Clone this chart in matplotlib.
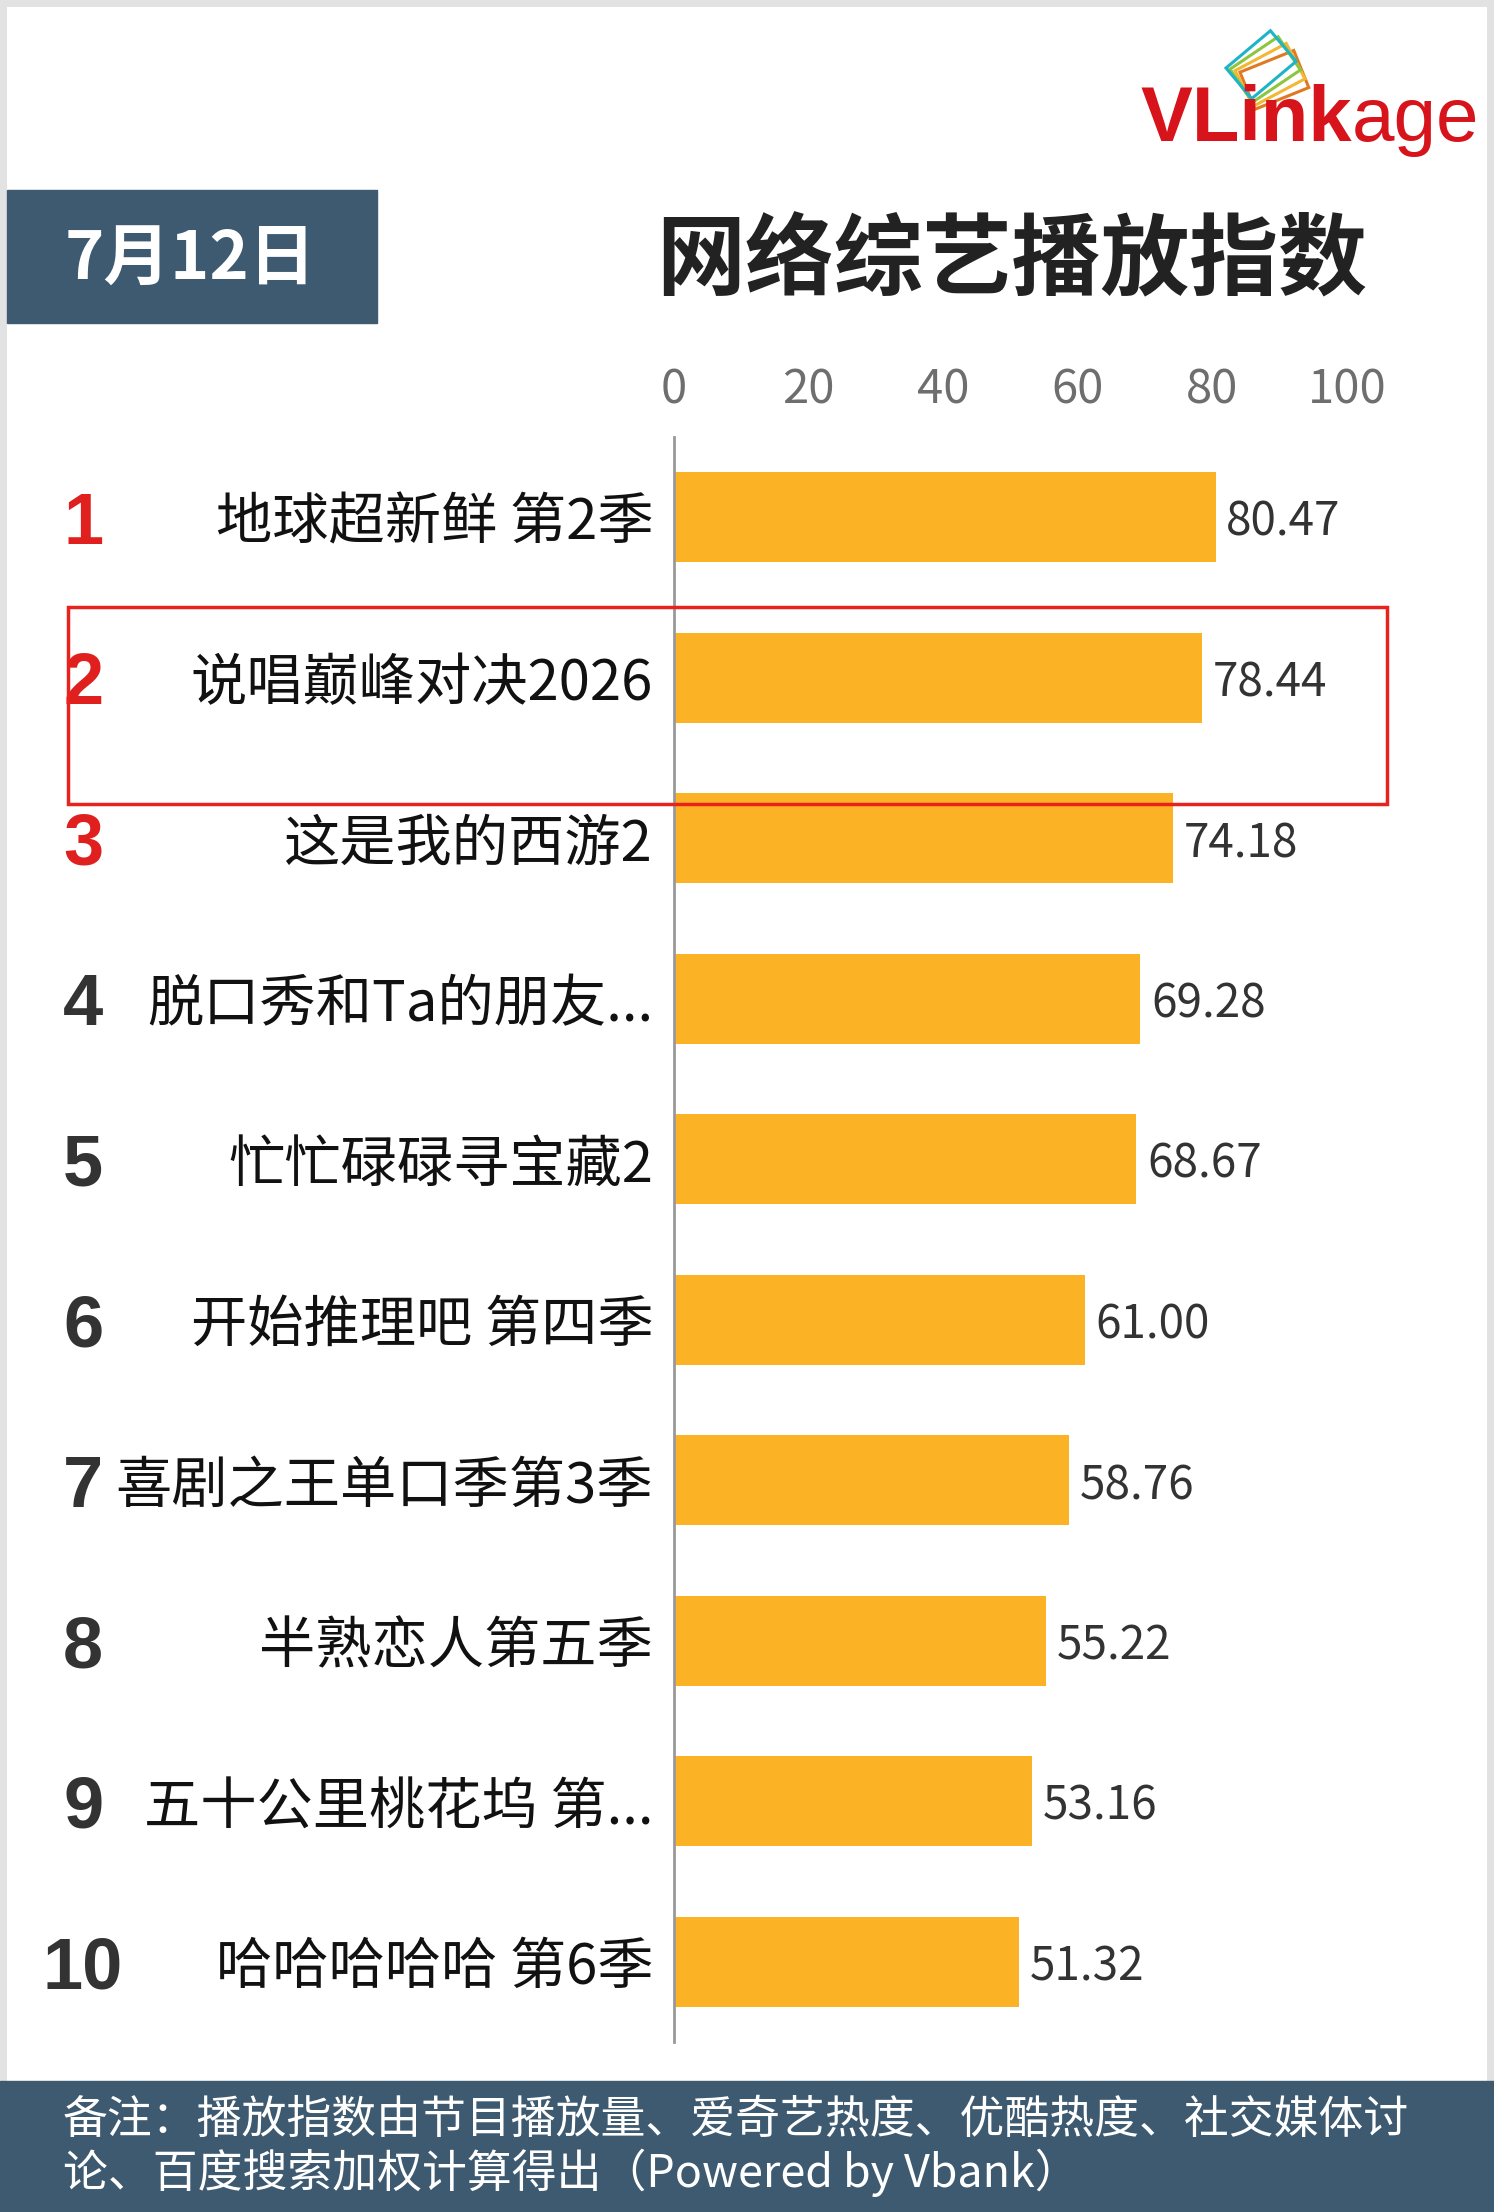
import matplotlib.pyplot as plt
from matplotlib.patches import Rectangle

plt.rcParams['font.family'] = ['Noto Sans CJK SC', 'DejaVu Sans']

# 数据
ranks = [1, 2, 3, 4, 5, 6, 7, 8, 9, 10]
shows = ["地球超新鲜 第2季", "说唱巅峰对决2026", "这是我的西游2", "脱口秀和Ta的朋友...",
         "忙忙碌碌寻宝藏2", "开始推理吧 第四季", "喜剧之王单口季第3季", "半熟恋人第五季",
         "五十公里桃花坞 第...", "哈哈哈哈哈 第6季"]
values = [80.47, 78.44, 74.18, 69.28, 68.67, 61.00, 58.76, 55.22, 53.16, 51.32]
xticks = [0, 20, 40, 60, 80, 100]

bar_color = "#FBB224"
dark_blue = "#3E5A70"
red = "#E0201E"

fig = plt.figure(figsize=(14.94, 22.12), dpi=100)

# 主图
ax = fig.add_axes([674 / 1494, 1 - 2042 / 2212, 673 / 1494, 1605 / 2212])
y = list(range(len(shows)))
ax.barh(y, values, height=0.56, color=bar_color, zorder=2)
ax.set_xlim(0, 100)
ax.set_ylim(9.5, -0.5)
ax.xaxis.tick_top()
ax.set_xticks(xticks)
ax.set_xticklabels([str(t) for t in xticks], fontsize=34, color="#6E6E6E")
ax.tick_params(axis='x', length=0, pad=16)
ax.set_yticks(y)
ax.set_yticklabels(shows, fontsize=40.5, color="#111111")
ax.tick_params(axis='y', length=0, pad=15)
for s in ["top", "right", "bottom"]:
    ax.spines[s].set_visible(False)
ax.spines["left"].set_color("#999999")
ax.spines["left"].set_linewidth(2)

for i, v in enumerate(values):
    ax.text(v + 1.6, i, f"{v:.2f}", va="center_baseline", ha="left", fontsize=33, color="#333333")

for i, r in enumerate(ranks):
    c = red if r <= 3 else "#333333"
    ax.text(-0.878, i, str(r), transform=ax.get_yaxis_transform(), ha="center",
            va="center_baseline", fontsize=52, fontweight="bold", color=c,
            family=["Liberation Sans", "DejaVu Sans"])

# 装饰层（像素坐标）
ov = fig.add_axes([0, 0, 1, 1], zorder=5)
ov.set_xlim(0, 1494)
ov.set_ylim(2212, 0)
ov.axis("off")
ov.patch.set_alpha(0)

# 外框
ov.add_patch(Rectangle((0, 0), 1494, 2212, fill=False, edgecolor="#E2E2E2", linewidth=10))

# 日期框
ov.add_patch(Rectangle((7, 190), 370, 133, color=dark_blue))
ov.text(190, 260, "7月12日", color="white", fontsize=48, fontweight="bold", ha="center", va="center")

# 标题
ov.text(1012, 262, "网络综艺播放指数", color="#222222", fontsize=64, fontweight="bold",
        ha="center", va="center")

# logo
for ang, col, dx in [(-22, "#E07A22", 14), (-28, "#F2B733", 9), (-34, "#8CC63F", 4), (-40, "#1FB3C9", 0)]:
    ov.add_patch(Rectangle((1226 + dx, 68 + dx * 0.3), 58, 40, angle=ang, fill=False,
                           edgecolor=col, linewidth=2.2))
ov.text(1352, 141, "VLink", color="#D7141B", fontsize=56, fontweight="bold", ha="right",
        va="baseline", family=["Liberation Sans", "DejaVu Sans"])
ov.text(1352, 141, "age", color="#D7141B", fontsize=55, ha="left", va="baseline",
        family=["Liberation Sans", "DejaVu Sans"])

# 高亮框
ov.add_patch(Rectangle((68, 607), 1319, 197, fill=False, edgecolor="#E8231E", linewidth=2.5))

# 底部备注
ov.add_patch(Rectangle((0, 2081), 1494, 131, color=dark_blue))
ov.text(63, 2120, "备注：播放指数由节目播放量、爱奇艺热度、优酷热度、社交媒体讨", color="white",
        fontsize=32.3, ha="left", va="center")
ov.text(63, 2173, "论、百度搜索加权计算得出（Powered by Vbank）", color="white",
        fontsize=32.3, ha="left", va="center")

fig.savefig("out.png", dpi=100, facecolor="white")
